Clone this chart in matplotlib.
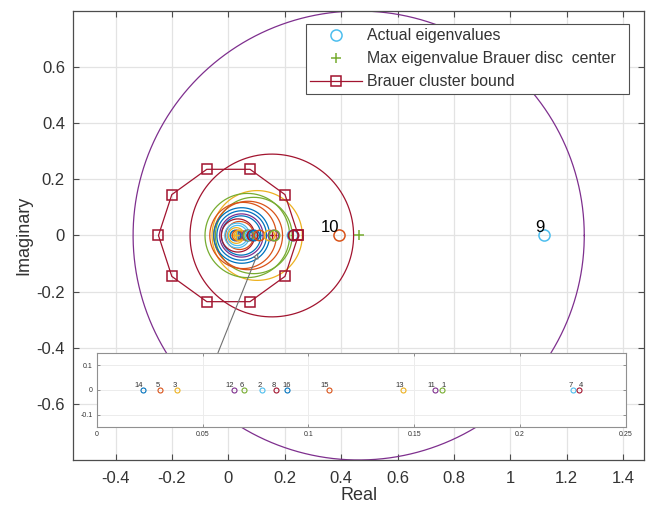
import numpy as np
import matplotlib.pyplot as plt

plt.rcParams['font.family'] = ['Liberation Sans', 'DejaVu Sans']

# MATLAB default line colours
BLUE = '#0072BD'
ORANGE = '#D95319'
YELLOW = '#EDB120'
PURPLE = '#7E2F8E'
GREEN = '#77AC30'
LBLUE = '#4DBEEE'
DRED = '#A2142F'

# eigenvalues inside the cluster (all real)
eig_labels = [14, 5, 3, 12, 6, 2, 8, 16, 15, 13, 11, 1, 7, 4]
eig_real = [0.0219, 0.0299, 0.0379, 0.0647, 0.0697, 0.0779, 0.0848, 0.0899,
            0.1098, 0.1449, 0.1599, 0.1630, 0.2249, 0.2279]
eig_colors = [BLUE, ORANGE, YELLOW, PURPLE, GREEN, LBLUE, DRED, BLUE,
              ORANGE, YELLOW, PURPLE, GREEN, LBLUE, DRED]
eig_ha = ['right', 'right', 'right', 'right', 'right', 'right', 'right', 'center',
          'right', 'right', 'right', 'left', 'right', 'left']

# eigenvalues outside the cluster
outer_labels = [10, 9]
outer_real = [0.392, 1.12]
outer_colors = [ORANGE, LBLUE]

# Brauer discs (centre on the real axis, radius)
disc_centers = [0.102, 0.067, 0.090, 0.052, 0.070, 0.047, 0.047, 0.045,
                0.046, 0.034, 0.040, 0.031, 0.032, 0.028, 0.154]
disc_radii = [0.160, 0.150, 0.136, 0.118, 0.122, 0.099, 0.088, 0.070,
              0.077, 0.059, 0.050, 0.044, 0.036, 0.028, 0.290]
disc_colors = [YELLOW, GREEN, GREEN, ORANGE, ORANGE, BLUE, BLUE, BLUE,
               PURPLE, DRED, ORANGE, LBLUE, LBLUE, YELLOW, DRED]

# disc of the dominant eigenvalue
max_disc_center = 0.462
max_disc_radius = 0.80

# polygonal cluster bound
cluster_radius = 0.248
cluster_sides = 10

xticks = [-0.4, -0.2, 0, 0.2, 0.4, 0.6, 0.8, 1, 1.2, 1.4]
xticklabels = ['-0.4', '-0.2', '0', '0.2', '0.4', '0.6', '0.8', '1', '1.2', '1.4']
yticks = [-0.6, -0.4, -0.2, 0, 0.2, 0.4, 0.6]
yticklabels = ['-0.6', '-0.4', '-0.2', '0', '0.2', '0.4', '0.6']
inset_xticks = [0, 0.05, 0.1, 0.15, 0.2, 0.25]
inset_xticklabels = ['0', '0.05', '0.1', '0.15', '0.2', '0.25']
inset_yticks = [-0.1, 0, 0.1]
inset_yticklabels = ['-0.1', '0', '0.1']

GRID = '#e3e3e3'
AXCOL = '#4d4d4d'
TXT = '#333333'

fig = plt.figure(figsize=(6.54, 5.09), dpi=100)
ax = fig.add_axes([0.1121, 0.0963, 0.8731, 0.8821])

theta = np.linspace(0, 2 * np.pi, 400)

# discs
for c, r, col in zip(disc_centers, disc_radii, disc_colors):
    ax.plot(c + r * np.cos(theta), r * np.sin(theta), color=col, lw=0.9)
    ax.plot(c, 0, '+', color=col, ms=6.5, mew=1.0)
ax.plot(max_disc_center + max_disc_radius * np.cos(theta),
        max_disc_radius * np.sin(theta), color=PURPLE, lw=0.9)
h_center, = ax.plot(max_disc_center, 0, '+', color=GREEN, ms=7, mew=1.1)

# eigenvalues
for x, col in zip(eig_real, eig_colors):
    ax.plot(x, 0, 'o', mfc='none', mec=col, ms=7.5, mew=1.1)
h_eig = None
for lab, x, col in zip(outer_labels, outer_real, outer_colors):
    h, = ax.plot(x, 0, 'o', mfc='none', mec=col, ms=8, mew=1.1)
    h_eig = h
    ax.text(x, 0.012, str(lab), ha='right', va='baseline', fontsize=12, color='black')

# cluster bound polygon
ang = np.linspace(0, 2 * np.pi, cluster_sides + 1)
h_bound, = ax.plot(cluster_radius * np.cos(ang), cluster_radius * np.sin(ang),
                   '-s', color=DRED, mfc='none', mec=DRED, ms=6.5, lw=0.9, mew=1.1)

ax.set_xlim(-0.55, 1.475)
ax.set_ylim(-0.8, 0.8)
ax.set_xticks(xticks)
ax.set_xticklabels(xticklabels)
ax.set_yticks(yticks)
ax.set_yticklabels(yticklabels)
ax.grid(True, color=GRID, lw=0.9)
ax.set_axisbelow(True)
ax.tick_params(direction='in', length=4.5, width=0.8, top=True, right=True,
               labelsize=12, colors=AXCOL, labelcolor=TXT)
ax.tick_params(axis='x', pad=8)
ax.tick_params(axis='y', pad=6)
for s in ax.spines.values():
    s.set_color(AXCOL)
    s.set_linewidth(0.9)
ax.set_xlabel('Real', fontsize=13, color=TXT, labelpad=1)
ax.set_ylabel('Imaginary', fontsize=13, color=TXT, labelpad=3)

# pointer from the zoomed strip to the cluster
ax.annotate('', xy=(0.105, -0.062), xytext=(-0.037, -0.418),
            arrowprops=dict(arrowstyle='-|>', color='#707070', lw=0.8,
                            mutation_scale=8, fc='white', shrinkA=0, shrinkB=0))

leg_left, leg_top, leg_right = 306 / 654, 1 - 24 / 509, 629.3 / 654
leg = ax.legend([h_eig, h_center, h_bound],
                ['Actual eigenvalues', 'Max eigenvalue Brauer disc  center',
                 'Brauer cluster bound'],
                loc='upper left', mode='expand',
                bbox_to_anchor=(leg_left, leg_top - 0.2, leg_right - leg_left, 0.2),
                bbox_transform=fig.transFigure, borderaxespad=0,
                fontsize=11.4, handlelength=3.27, handletextpad=0.3,
                labelspacing=0.5, borderpad=0.28,
                fancybox=False, framealpha=1, edgecolor='#505050')
leg.get_frame().set_linewidth(0.8)
for t in leg.get_texts():
    t.set_color(TXT)

# zoomed strip of the clustered eigenvalues
ins = fig.add_axes([96.7 / 654, 1 - 427.3 / 509, (626 - 96.7) / 654, (427.3 - 352.7) / 509])
for lab, x, col, ha in zip(eig_labels, eig_real, eig_colors, eig_ha):
    ins.plot(x, 0, 'o', mfc='none', mec=col, ms=3.6, mew=0.8)
    ins.text(x, 0.012, str(lab), ha=ha, va='baseline', fontsize=5.5, color=TXT)
ins.set_xlim(0, 0.25)
ins.set_ylim(-0.15, 0.15)
ins.set_xticks(inset_xticks)
ins.set_xticklabels(inset_xticklabels)
ins.set_yticks(inset_yticks)
ins.set_yticklabels(inset_yticklabels)
ins.grid(True, color='#ececec', lw=0.7)
ins.set_axisbelow(True)
ins.tick_params(direction='in', length=2.5, width=0.6, top=True, right=True,
                labelsize=5, colors='#808080', labelcolor=TXT, pad=3)
for s in ins.spines.values():
    s.set_color('#909090')
    s.set_linewidth(0.8)

fig.savefig('out.png', dpi=100)
